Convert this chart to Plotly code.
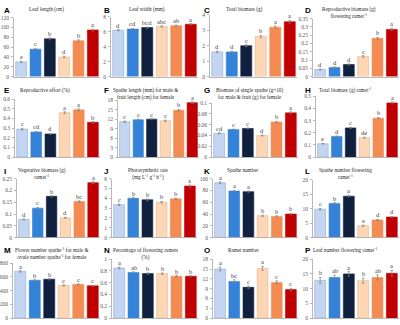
import plotly.graph_objects as go

groups = ["G1", "G2", "G3", "G4", "G5", "G6"]
bar_colors = ["#c3d5f0", "#3483d8", "#10203f", "#fcd6b5", "#f48b52", "#c00000"]
bar_edges = ["#8eaad8", "#3483d8", "#10203f", "#e8b48a", "#f48b52", "#c00000"]

panel_letters = ["A", "B", "C", "D", "E", "F", "G", "H", "I", "J", "K", "L", "M", "N", "O", "P"]
titles = [
    "Leaf length (cm)",
    "Leaf width (mm)",
    "Total biomass (g)",
    "Reproductive biomass (g)<br>flowering ramet<sup>-1</sup>",
    "Reproductive effort (%)",
    "Spathe length (mm) for male &<br>fruit length (cm) for female",
    "Biomass of single spathe (g×10)<br>for male & fruit (g) for female",
    "Total biomass (g) ramet<sup>-1</sup>",
    "Vegetative biomass (g)<br>ramet<sup>-1</sup>",
    "Photosynthetic rate<br>(mg L<sup>-1</sup> g<sup>-1</sup> h<sup>-1</sup>)",
    "Spathe number",
    "Spathe number flowering<br>ramet<sup>-1</sup>",
    "Flower number spathe<sup>-1</sup> for male &<br>ovule number spathe<sup>-1</sup> for female",
    "Percentage of flowering ramets<br>(%)",
    "Ramet number",
    "Leaf number flowering ramet<sup>-1</sup>",
]

leaf_length = [30, 56, 77, 40, 73, 95]
leaf_width = [6.2, 6.35, 6.55, 6.7, 6.8, 7.0]
total_biomass = [1.6, 1.6, 2.0, 2.6, 3.2, 3.55]
repro_biomass = [0.043, 0.055, 0.073, 0.122, 0.232, 0.285]
repro_effort = [0.29, 0.26, 0.24, 0.46, 0.49, 0.36]
spathe_length = [11.2, 11.8, 12.0, 11.5, 14.8, 17.2]
single_spathe = [0.044, 0.051, 0.053, 0.040, 0.065, 0.082]
biomass_ramet = [0.11, 0.17, 0.24, 0.16, 0.32, 0.445]
veg_biomass = [0.077, 0.125, 0.175, 0.084, 0.153, 0.233]
photo_rate = [3.35, 4.0, 3.85, 3.6, 3.95, 5.25]
spathe_number = [93, 79, 78, 37, 36, 40]
spathe_per_ramet = [9.8, 11.8, 14.3, 4.1, 6.1, 7.1]
flower_number = [680, 550, 565, 475, 490, 470]
pct_flowering = [0.85, 0.775, 0.755, 0.755, 0.71, 0.71]
ramet_number = [15.0, 11.2, 9.4, 15.2, 10.9, 8.7]
leaf_number = [12.8, 13.8, 15.0, 12.7, 13.8, 15.2]

leaf_length_err = [1.5, 1.5, 2, 1.5, 2, 2]
leaf_width_err = [0.08, 0.08, 0.08, 0.08, 0.08, 0.08]
total_biomass_err = [0.05, 0.05, 0.06, 0.08, 0.08, 0.1]
repro_biomass_err = [0.003, 0.004, 0.004, 0.005, 0.006, 0.007]
repro_effort_err = [0.008, 0.007, 0.006, 0.01, 0.01, 0.008]
spathe_length_err = [0.2, 0.2, 0.2, 0.2, 0.3, 0.3]
single_spathe_err = [0.001, 0.001, 0.001, 0.001, 0.001, 0.002]
biomass_ramet_err = [0.003, 0.004, 0.005, 0.004, 0.006, 0.008]
veg_biomass_err = [0.002, 0.003, 0.003, 0.002, 0.003, 0.004]
photo_rate_err = [0.08, 0.08, 0.08, 0.08, 0.08, 0.1]
spathe_number_err = [1.5, 1.2, 1.2, 1.0, 1.0, 1.0]
spathe_per_ramet_err = [0.3, 0.3, 0.3, 0.2, 0.2, 0.2]
flower_number_err = [12, 10, 10, 8, 8, 8]
pct_flowering_err = [0.015, 0.012, 0.012, 0.012, 0.012, 0.012]
ramet_number_err = [0.6, 0.5, 0.4, 0.6, 0.5, 0.4]
leaf_number_err = [1.0, 0.8, 0.8, 0.9, 0.9, 1.0]

sig_letters = [
    ["e", "c", "b", "d", "b", "a"],
    ["d", "cd", "bcd", "abc", "ab", "a"],
    ["d", "d", "c", "b", "a", "a"],
    ["d", "d", "d", "c", "b", "a"],
    ["c", "cd", "d", "a", "a", "b"],
    ["c", "c", "c", "c", "b", "a"],
    ["cd", "c", "c", "d", "b", "a"],
    ["e", "d", "c", "de", "b", "a"],
    ["d", "c", "b", "d", "bc", "a"],
    ["c", "b", "b", "b", "b", "a"],
    ["a", "a", "a", "b", "b", "b"],
    ["c", "b", "a", "e", "d", "d"],
    ["a", "b", "b", "c", "c", "c"],
    ["a", "ab", "b", "b", "b", "b"],
    ["a", "bc", "c", "a", "c", "c"],
    ["b", "ab", "a", "b", "ab", "a"],
]

values = [leaf_length, leaf_width, total_biomass, repro_biomass, repro_effort, spathe_length,
          single_spathe, biomass_ramet, veg_biomass, photo_rate, spathe_number, spathe_per_ramet,
          flower_number, pct_flowering, ramet_number, leaf_number]
errors = [leaf_length_err, leaf_width_err, total_biomass_err, repro_biomass_err, repro_effort_err,
          spathe_length_err, single_spathe_err, biomass_ramet_err, veg_biomass_err, photo_rate_err,
          spathe_number_err, spathe_per_ramet_err, flower_number_err, pct_flowering_err,
          ramet_number_err, leaf_number_err]

y_max = [120, 8, 4, 0.35, 0.6, 18, 0.1, 0.5, 0.25, 6, 100, 20, 800, 1, 18, 20]
y_step = [20, 2, 1, 0.05, 0.1, 3, 0.02, 0.1, 0.05, 1, 20, 5, 200, 0.2, 3, 5]

# layout geometry in pixels
W, H = 400, 325
lefts = [14, 111, 210, 313, 15, 118, 212, 316, 17, 112, 213, 313, 13, 112, 213, 313]
rights = [100, 198, 297, 399, 100, 199, 298, 399, 100, 197, 298, 399, 100, 198, 298, 399]
tops = [15, 14, 12, 16, 98, 99, 102, 95, 179, 179, 179, 180, 265, 261, 261, 261]
bottoms = [75, 75, 75, 75, 157, 157, 157, 157, 239, 239, 239, 239, 321, 321, 321, 321]
row_tops = [0, 82, 164, 245]
letter_x = [2, 102, 202, 303]
title_cx = [46, 147, 244, 349, 45, 145, 249, 345, 42, 148, 243, 345, 51, 145, 243, 345]

fig = go.Figure()
annotations = []
layout_axes = {}
serif = "Liberation Serif, Times New Roman, serif"

for i in range(16):
    r, c = divmod(i, 4)
    sx = "" if i == 0 else str(i + 1)
    xa, ya = "x" + sx, "y" + sx
    fig.add_trace(go.Bar(
        x=groups, y=values[i], xaxis=xa, yaxis=ya,
        marker=dict(color=bar_colors, line=dict(color=bar_edges, width=0.6)),
        error_y=dict(type="data", array=errors[i], visible=True, color="#7f7f7f",
                     thickness=0.7, width=1.2),
        showlegend=False, hoverinfo="skip",
    ))
    layout_axes["xaxis" + sx] = dict(
        domain=[lefts[i] / W, rights[i] / W], anchor=ya, showticklabels=False,
        showline=True, linecolor="#a6a6a6", linewidth=0.8, ticks="", showgrid=False,
        zeroline=False, range=[-0.5, 5.5], fixedrange=True,
    )
    layout_axes["yaxis" + sx] = dict(
        domain=[1 - bottoms[i] / H, 1 - tops[i] / H], anchor=xa,
        range=[0, y_max[i]], dtick=y_step[i], tick0=0,
        showline=True, linecolor="#a6a6a6", linewidth=0.8, ticks="outside", ticklen=2,
        tickcolor="#a6a6a6", tickwidth=0.8, showgrid=False, zeroline=False,
        tickfont=dict(family=serif, size=5.5, color="#595959"), ticklabelstandoff=1,
        fixedrange=True,
    )
    for k in range(6):
        annotations.append(dict(
            x=groups[k], y=values[i][k] + errors[i][k], xref=xa, yref=ya,
            text=sig_letters[i][k], showarrow=False, yanchor="bottom", yshift=-1,
            font=dict(family=serif, size=6.5, color="#404040"),
        ))
    # panel letter
    annotations.append(dict(
        x=letter_x[c] / W, y=1 - (row_tops[r] + 1) / H, xref="paper", yref="paper",
        text="<b>%s</b>" % panel_letters[i], showarrow=False, xanchor="left", yanchor="top",
        font=dict(family="Liberation Sans, Arial, sans-serif", size=8, color="#000000"),
    ))
    # title
    annotations.append(dict(
        x=title_cx[i] / W, y=1 - (row_tops[r] + 1.5) / H, xref="paper", yref="paper",
        text=titles[i], showarrow=False, xanchor="center", yanchor="top",
        font=dict(family=serif, size=5.2, color="#262626"),
    ))

fig.update_layout(
    width=W, height=H, margin=dict(l=0, r=0, t=0, b=0),
    paper_bgcolor="white", plot_bgcolor="white",
    bargap=0.24, annotations=annotations, **layout_axes,
)
fig.write_html(
    "out.html",
    config={"displayModeBar": False, "staticPlot": True},
    post_script="document.body.style.margin='0';document.body.style.overflow='hidden';",
)
